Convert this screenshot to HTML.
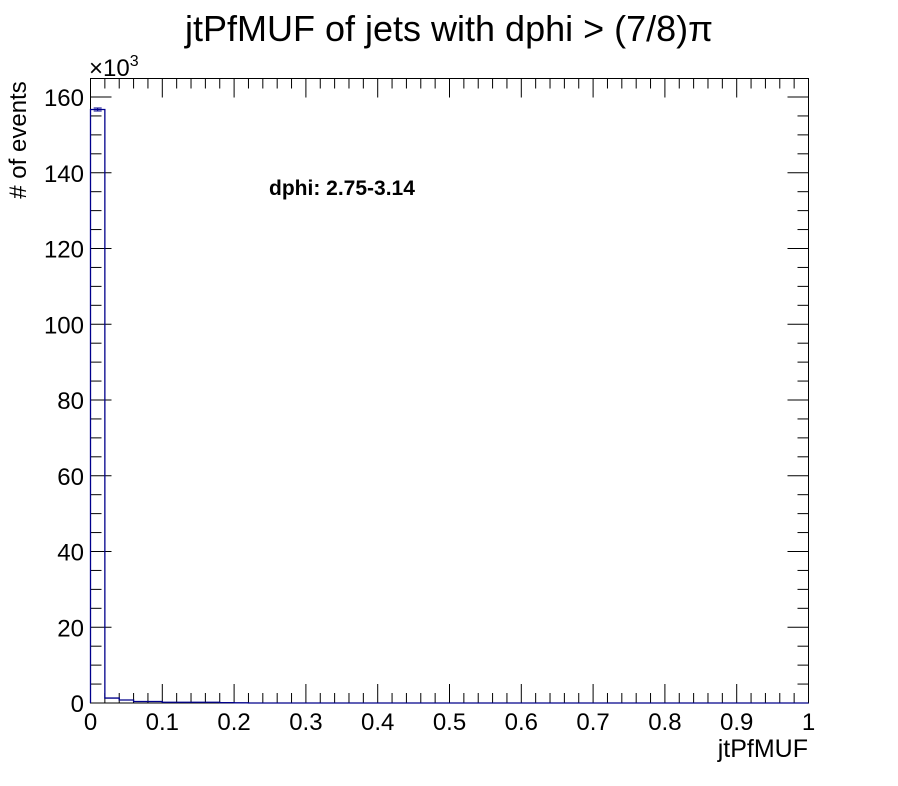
<!DOCTYPE html>
<html><head><meta charset="utf-8"><style>
body{margin:0;background:#fff;}
svg text{font-family:"Liberation Sans",sans-serif;}
</style></head><body>
<svg id="c" width="898" height="781">
<text x="449" y="41" font-size="36" text-anchor="middle">jtPfMUF of jets with dphi &gt; (7/8)π</text>
<text x="89" y="76" font-size="24">×10<tspan font-size="16" dy="-10">3</tspan></text>
<text x="26" y="140" font-size="24" text-anchor="middle" transform="rotate(-90 26 140)"># of events</text>
<text x="808" y="757" font-size="25" text-anchor="end">jtPfMUF</text>
<text x="269" y="195" font-size="21" font-weight="bold">dphi: 2.75-3.14</text>
<rect x="90.5" y="78.5" width="718" height="624.5" fill="none" stroke="#000" stroke-width="1"/>
<g id="ticks"></g>
<g id="bars"></g>
</svg>
<script>
const binEdges0 = 0, binWidth = 0.02;
const counts = [156.7, 1.3, 0.8, 0.4, 0.4, 0.2, 0.2, 0.2, 0.2, 0.1, 0.05, 0, 0, 0, 0, 0, 0, 0, 0, 0,
 0,0,0,0,0,0,0,0,0,0, 0,0,0,0,0,0,0,0,0,0, 0,0,0,0,0,0,0,0,0,0];
const xTicks = [0,0.1,0.2,0.3,0.4,0.5,0.6,0.7,0.8,0.9,1];
const xTickLabels = ["0","0.1","0.2","0.3","0.4","0.5","0.6","0.7","0.8","0.9","1"];
const yTicks = [0,20,40,60,80,100,120,140,160];
const X0=90.5,X1=808.5,Y0=703,YT=78.5;
const sx=v=>X0+(X1-X0)*v;
const sy=v=>Y0-(Y0-97)*v/160;
const NS="http://www.w3.org/2000/svg";
function mk(t,a,p){const e=document.createElementNS(NS,t);for(const k in a)e.setAttribute(k,a[k]);p.appendChild(e);return e;}
const T=document.getElementById('ticks');
for(let i=0;i<=50;i++){const v=i*0.02;const maj=i%5===0;const L=maj?19:10;const x=sx(v);
 let l=mk('line',{x1:x,x2:x,y1:Y0,y2:Y0-L,stroke:'#000'},T);
 
 l=mk('line',{x1:x,x2:x,y1:YT,y2:YT+L,stroke:'#000'},T);
 }
xTicks.forEach((v,i)=>{const t=mk('text',{x:sx(v),y:730,'font-size':24,'text-anchor':'middle'},T);t.textContent=xTickLabels[i];
 });
for(let k=0;k<=165;k+=5){const y=sy(k);if(y<YT)break;const maj=k%20===0;const L=maj?21:11;
 let l=mk('line',{x1:X0,x2:X0+L,y1:y,y2:y,stroke:'#000'},T);
 
 l=mk('line',{x1:X1,x2:X1-L,y1:y,y2:y,stroke:'#000'},T);
 }
yTicks.forEach(v=>{const t=mk('text',{x:84,y:sy(v)+9,'font-size':24,'text-anchor':'end'},T);t.textContent=v;
 });
const B=document.getElementById('bars');
let d='M'+sx(0)+','+Y0;
counts.forEach((c,i)=>{const xa=sx(binEdges0+i*binWidth),xb=sx(binEdges0+(i+1)*binWidth);d+=' L'+xa+','+sy(c)+' L'+xb+','+sy(c);});
d+=' L'+sx(1)+','+Y0;
const p=mk('path',{d:d,fill:'none',stroke:'#00008b','stroke-width':1.3},B);

const xm=(sx(0)+sx(binWidth))/2, e=Math.sqrt(counts[0]*1000)/1000;
const eb=mk('path',{d:`M${xm},${sy(counts[0]+e)} L${xm},${sy(counts[0]-e)} M${xm-4},${sy(counts[0]+e)} L${xm+4},${sy(counts[0]+e)} M${xm-4},${sy(counts[0]-e)} L${xm+4},${sy(counts[0]-e)}`,stroke:'#00008b',fill:'none'},B);

</script>
</body></html>
